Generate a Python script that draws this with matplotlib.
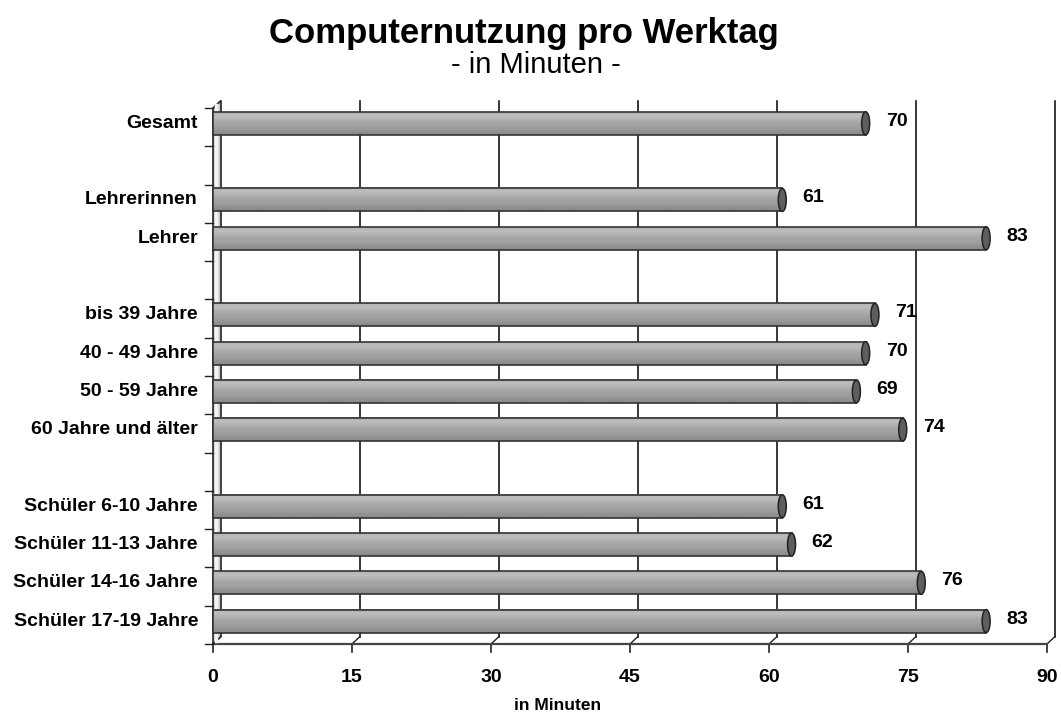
import numpy as np
import matplotlib.pyplot as plt
from matplotlib.patches import Rectangle, Ellipse, Polygon

plt.rcParams['font.family'] = ['Liberation Sans', 'DejaVu Sans']

# categories top to bottom, None = empty gap slot
categories = ['Gesamt', None, 'Lehrerinnen', 'Lehrer', None,
              'bis 39 Jahre', '40 - 49 Jahre', '50 - 59 Jahre', '60 Jahre und älter', None,
              'Schüler 6-10 Jahre', 'Schüler 11-13 Jahre', 'Schüler 14-16 Jahre', 'Schüler 17-19 Jahre']
values = [70, None, 61, 83, None, 71, 70, 69, 74, None, 61, 62, 76, 83]
xticks = [0, 15, 30, 45, 60, 75, 90]

fig = plt.figure(figsize=(10.61, 7.13), dpi=100)
W, H = 1061, 713
left_px, right_px, top_px, bot_px = 213, 1047, 108, 644
ax = fig.add_axes([left_px / W, 1 - bot_px / H, (right_px - left_px) / W, (bot_px - top_px) / H])
n = len(categories)
xmax = 90
ax.set_xlim(0, xmax)
ax.set_ylim(n, 0)
ax.axis('off')

# pixel -> data conversion
px_x = xmax / (right_px - left_px)
px_y = n / (bot_px - top_px)
dx, dy = 8 * px_x, 7.5 * px_y  # 3d depth

line_c = '#222222'

# back wall grid lines + floor diagonals + front ticks
for v in xticks:
    if v > 0:
        ax.plot([v + dx, v + dx], [-dy, n - dy], color='black', lw=1.1, clip_on=False)
    ax.plot([v, v + dx], [n, n - dy], color=line_c, lw=1, clip_on=False)
    ax.plot([v, v], [n, n + 8 * px_y], color=line_c, lw=1.2, clip_on=False)
    ax.text(v, n + 33 * px_y, str(v), ha='center', va='center', fontsize=14,
            fontweight='bold', clip_on=False)

# front floor axis
ax.plot([0, xmax], [n, n], color='#444444', lw=1.6, clip_on=False)

# left wall
wall = Polygon([[0, 0], [dx, -dy], [dx, n - dy], [0, n]], closed=True,
               facecolor='#cfcfcf', edgecolor=line_c, lw=1.2, clip_on=False, zorder=2)
ax.add_patch(wall)
ax.plot([dx * 0.4, dx * 0.4], [0 - dy * 0.4, n - dy * 0.4], color='#f2f2f2', lw=2.5,
        clip_on=False, zorder=2)

# left ticks at slot boundaries
for k in range(n + 1):
    ax.plot([-8 * px_x, 0], [k, k], color=line_c, lw=1, clip_on=False)

# bars
grad = np.array([0.72, 0.74, 0.70, 0.66, 0.64, 0.62, 0.58, 0.55]).reshape(-1, 1)
bh = 23 * px_y
for i, (cat, v) in enumerate(zip(categories, values)):
    if cat is None:
        continue
    yc = i + 0.5 - dy / 2
    x0 = 0
    x1 = v + dx / 2
    ax.imshow(grad, cmap='gray', vmin=0, vmax=1, aspect='auto', interpolation='bilinear',
              extent=(x0, x1, yc + bh / 2, yc - bh / 2), zorder=3, clip_on=False)
    ax.add_patch(Rectangle((x0, yc - bh / 2), x1 - x0, bh, fill=False,
                           edgecolor='#333333', lw=1.2, zorder=4, clip_on=False))
    ax.add_patch(Ellipse((x1, yc), 8 * px_x, bh, facecolor='#5e5e5e',
                         edgecolor='#222222', lw=1.1, zorder=5, clip_on=False))
    ax.text(x1 + 20 * px_x, yc - 2 * px_y, str(v), ha='left', va='center', fontsize=14,
            fontweight='bold', clip_on=False)
    ax.text(-15 * px_x, yc, cat, ha='right', va='center', fontsize=14,
            fontweight='bold', clip_on=False)

ax.set_xlim(0, xmax)
ax.set_ylim(n, 0)

fig.text(524 / W, 1 - 33 / H, 'Computernutzung pro Werktag', ha='center', va='center',
         fontsize=25, fontweight='bold')
fig.text(536 / W, 1 - 65 / H, '- in Minuten -', ha='center', va='center', fontsize=21)
fig.text(558 / W, 1 - 705 / H, 'in Minuten', ha='center', va='center', fontsize=12.5,
         fontweight='bold')

fig.savefig('out.png', dpi=100)
